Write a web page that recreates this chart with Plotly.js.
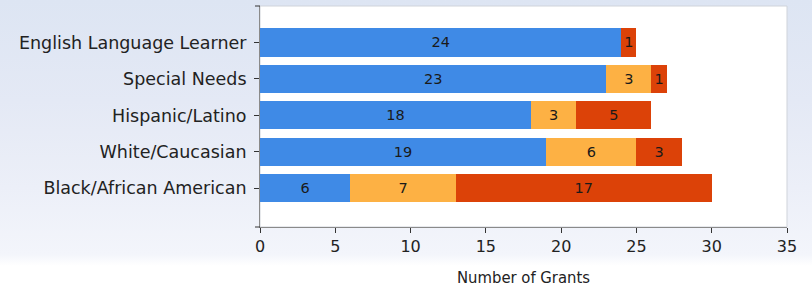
<!DOCTYPE html>
<html>
<head>
<meta charset="utf-8">
<script src="https://cdn.plot.ly/plotly-3.0.1.min.js"></script>
<style>
html,body{margin:0;padding:0;}
body{width:812px;height:289px;background:linear-gradient(to bottom,#dde5f3 0%,#e4e9f5 35%,#eceff8 65%,#f3f5fb 88%,#ffffff 92%,#ffffff 100%);}
#chart{width:812px;height:289px;}
</style>
</head>
<body>
<div id="chart"></div>
<script>
const categories = ["Black/African American","White/Caucasian","Hispanic/Latino","Special Needs","English Language Learner"];
const blueValues = [6, 19, 18, 23, 24];
const orangeValues = [7, 6, 3, 3, 0];
const redValues = [17, 3, 5, 1, 1];
const xTicks = [0, 5, 10, 15, 20, 25, 30, 35];

function series(vals, color) {
  return {
    type: 'bar', orientation: 'h',
    y: categories, x: vals,
    marker: {color: color, line: {width: 0}},
    text: vals.map(v => v === 0 ? '' : String(v)),
    texttemplate: '%{text}',
    textposition: 'inside',
    insidetextanchor: 'middle',
    textangle: 0,
    insidetextfont: {family: 'DejaVu Sans, sans-serif', size: 14.5, color: '#1a1a1a'},
    hoverinfo: 'none',
    cliponaxis: false
  };
}

const data = [
  series(blueValues, '#3f8ae6'),
  series(orangeValues, '#fdb144'),
  series(redValues, '#dc4208')
];

const layout = {
  width: 812, height: 289,
  margin: {l: 260, r: 25, t: 6, b: 62},
  paper_bgcolor: 'rgba(0,0,0,0)',
  plot_bgcolor: '#ffffff',
  barmode: 'stack',
  bargap: 0.23,
  showlegend: false,
  uniformtext: {mode: 'show', minsize: 14.5},
  font: {family: 'DejaVu Sans, sans-serif', color: '#1a1a1a'},
  xaxis: {
    range: [0, 35], tickvals: xTicks, ticktext: xTicks.map(String),
    showgrid: false, zeroline: false,
    showline: true, linecolor: '#8a8a8a', linewidth: 1,
    ticks: 'outside', ticklen: 5, tickcolor: '#333',
    tickfont: {size: 16, color: '#222'},
    title: {text: 'Number of Grants', font: {family: 'DejaVu Sans Condensed, DejaVu Sans, sans-serif', size: 16.5, color: '#222'}, standoff: 16}
  },
  yaxis: {
    range: [-1.06, 5.0],
    showgrid: false, zeroline: false,
    showline: true, linecolor: '#8a8a8a', linewidth: 1,
    ticks: 'outside', ticklen: 5, tickcolor: '#333',
    tickfont: {size: 17.5, color: '#222'},
    ticklabelstandoff: 4
  },
  shapes: [
    {type: 'rect', xref: 'x domain', yref: 'y domain', x0: 0, x1: 1, y0: 0, y1: 1,
     line: {color: '#cfd3da', width: 1}, layer: 'below'},
    {type: 'line', xref: 'x domain', yref: 'y domain', x0: -0.0095, x1: 0, y0: 1, y1: 1,
     line: {color: '#333', width: 1}},
    {type: 'line', xref: 'x domain', yref: 'y domain', x0: -0.0095, x1: 0, y0: 0, y1: 0,
     line: {color: '#333', width: 1}}
  ]
};

Plotly.newPlot('chart', data, layout, {displayModeBar: false, staticPlot: true});
</script>
</body>
</html>
